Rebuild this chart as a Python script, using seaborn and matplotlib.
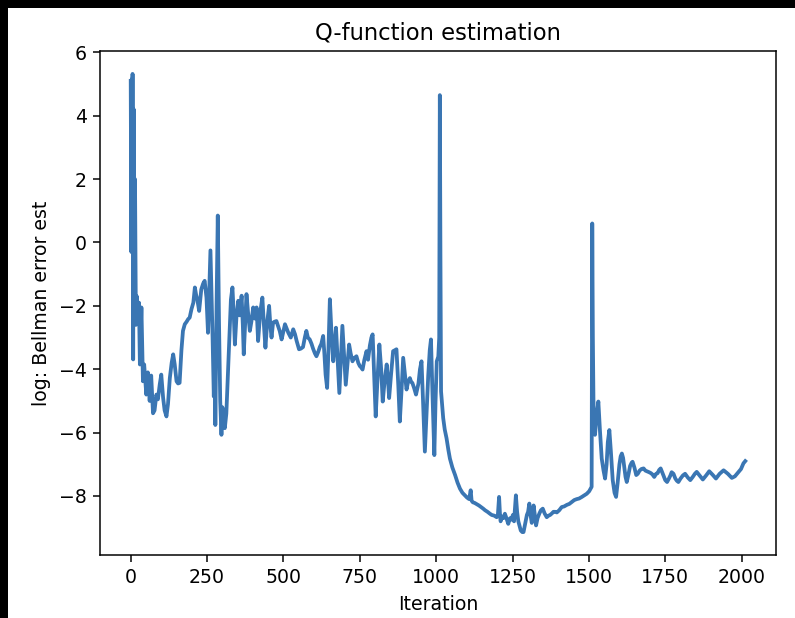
import numpy as np
import pandas as pd
import matplotlib
matplotlib.use("Agg")
import matplotlib.pyplot as plt
from matplotlib.patches import Rectangle
import seaborn as sns

# 1. VALUES (iteration, log Bellman error)
iters = [
    0, 2, 3, 5, 6, 8, 10, 12, 14, 17, 20, 24, 27, 30, 35, 40, 44, 51, 56, 62,
    67, 73, 78, 84, 89, 95, 100, 106, 111, 117, 122, 128, 134, 139, 144, 150, 155, 160, 166, 171,
    177, 183, 188, 193, 199, 205, 210, 214, 218, 224, 231, 237, 242, 248, 253, 257, 261, 265, 268, 272,
    275, 277, 281, 285, 289, 293, 297, 300, 303, 308, 313, 318, 324, 328, 333, 337, 341, 346, 352, 357,
    363, 367, 370, 375, 379, 384, 390, 395, 401, 406, 412, 417, 424, 431, 436, 441, 447, 453, 457, 461,
    466, 471, 477, 483, 488, 494, 500, 505, 510, 516, 524, 532, 538, 543, 551, 557, 564, 570, 575, 580,
    586, 592, 597, 603, 608, 614, 619, 624, 630, 634, 638, 643, 647, 652, 657, 663, 667, 672, 677, 683,
    688, 693, 698, 704, 709, 715, 720, 726, 732, 739, 745, 750, 755, 759, 765, 772, 777, 783, 788, 792,
    797, 802, 808, 814, 820, 825, 831, 838, 842, 846, 852, 859, 865, 870, 876, 881, 887, 892, 897, 903,
    908, 914, 918, 922, 928, 934, 942, 947, 952, 957, 963, 968, 974, 979, 983, 988, 994, 998, 1002, 1007,
    1010, 1012, 1014, 1016, 1020, 1023, 1028, 1034, 1040, 1045, 1053, 1062, 1070, 1078, 1086, 1094, 1101, 1108, 1113, 1116,
    1120, 1126, 1133, 1140, 1147, 1154, 1160, 1168, 1176, 1182, 1190, 1198, 1202, 1206, 1209, 1211, 1216, 1220, 1225, 1230,
    1236, 1242, 1247, 1251, 1255, 1258, 1261, 1265, 1269, 1273, 1277, 1282, 1286, 1291, 1297, 1301, 1305, 1309, 1313, 1316,
    1319, 1323, 1327, 1332, 1338, 1343, 1349, 1355, 1362, 1368, 1373, 1379, 1384, 1390, 1395, 1403, 1411, 1419, 1428, 1436,
    1444, 1452, 1460, 1468, 1477, 1485, 1493, 1501, 1507, 1509, 1511, 1513, 1515, 1518, 1520, 1525, 1531, 1536, 1542, 1548,
    1553, 1558, 1562, 1567, 1572, 1578, 1584, 1589, 1594, 1600, 1604, 1608, 1612, 1616, 1620, 1624, 1630, 1635, 1640, 1643,
    1649, 1655, 1660, 1666, 1672, 1679, 1685, 1690, 1697, 1703, 1708, 1714, 1720, 1725, 1730, 1735, 1740, 1744, 1750, 1756,
    1762, 1767, 1771, 1777, 1783, 1788, 1793, 1800, 1808, 1815, 1824, 1832, 1840, 1847, 1853, 1862, 1873, 1884, 1894, 1905,
    1916, 1928, 1941, 1955, 1968, 1978, 1990, 1998, 2006, 2012,
]

log_err = [
    5.10, -0.30, 5.15, 1.00, 5.32, -3.69, 4.20, -1.50, 2.00, -2.60, -1.70, -2.30, -1.90, -3.85, -2.05, -4.38, -3.85, -4.80, -4.10, -5.00,
    -4.20, -5.39, -5.30, -4.80, -4.95, -4.48, -4.17, -4.90, -5.30, -5.49, -5.10, -4.28, -3.80, -3.53, -3.85, -4.38, -4.45, -4.43, -3.40, -2.79,
    -2.58, -2.50, -2.42, -2.37, -2.10, -1.90, -1.42, -1.65, -1.80, -2.16, -1.48, -1.30, -1.21, -1.74, -2.85, -1.50, -0.25, -1.80, -3.00, -4.86,
    -3.20, -5.76, -2.00, 0.85, -2.50, -5.00, -6.07, -5.20, -5.40, -5.86, -5.40, -4.20, -2.79, -1.80, -1.42, -2.20, -3.22, -2.37, -1.84, -2.30,
    -1.68, -2.60, -3.53, -2.50, -1.63, -2.20, -2.79, -2.50, -2.05, -2.40, -2.05, -3.11, -2.20, -1.74, -2.60, -3.32, -2.50, -2.00, -2.60, -3.00,
    -2.53, -2.50, -2.48, -2.65, -2.80, -3.06, -2.80, -2.58, -2.70, -2.85, -3.00, -2.74, -2.90, -3.10, -3.37, -3.35, -3.30, -3.00, -2.79, -3.00,
    -3.06, -3.20, -3.35, -3.50, -3.59, -3.45, -3.30, -3.20, -2.95, -3.50, -4.17, -4.59, -3.50, -1.79, -2.80, -3.75, -3.30, -2.69, -3.60, -4.75,
    -3.70, -2.63, -3.50, -4.49, -3.90, -3.22, -3.50, -3.75, -3.65, -3.59, -3.80, -3.90, -3.95, -4.01, -3.70, -3.43, -3.70, -3.25, -3.00, -2.90,
    -4.20, -5.49, -4.30, -3.22, -4.00, -5.02, -4.40, -3.85, -4.30, -4.91, -4.20, -3.43, -3.40, -3.37, -4.50, -5.65, -4.60, -3.64, -4.10, -4.64,
    -4.40, -4.28, -4.40, -4.43, -4.60, -4.80, -4.45, -4.00, -3.75, -5.00, -6.60, -5.50, -4.20, -3.40, -3.06, -4.80, -6.71, -5.00, -3.75, -3.60,
    -3.00, 4.65, -0.50, -4.70, -5.20, -5.54, -5.90, -6.18, -6.55, -6.82, -7.10, -7.34, -7.58, -7.77, -7.90, -7.98, -8.05, -8.10, -7.82, -8.15,
    -8.20, -8.22, -8.26, -8.30, -8.35, -8.40, -8.45, -8.50, -8.56, -8.60, -8.62, -8.67, -8.60, -8.03, -8.60, -8.80, -8.65, -8.70, -8.56, -8.70,
    -8.88, -8.70, -8.75, -8.60, -8.80, -8.40, -7.98, -8.50, -8.80, -8.95, -9.09, -9.14, -9.14, -8.90, -8.60, -8.50, -8.24, -8.60, -8.85, -8.60,
    -8.30, -8.60, -8.93, -8.70, -8.55, -8.45, -8.40, -8.55, -8.67, -8.62, -8.60, -8.55, -8.50, -8.50, -8.52, -8.45, -8.35, -8.33, -8.28, -8.25,
    -8.19, -8.13, -8.10, -8.08, -8.03, -7.98, -7.93, -7.85, -7.75, -7.71, 0.60, -3.00, -5.02, -5.80, -6.07, -5.50, -5.02, -5.90, -6.82, -7.20,
    -7.45, -7.00, -6.30, -5.92, -6.60, -7.50, -7.90, -8.03, -7.60, -7.00, -6.75, -6.66, -6.80, -7.10, -7.40, -7.56, -7.30, -7.05, -6.95, -6.92,
    -7.10, -7.34, -7.30, -7.20, -7.15, -7.13, -7.20, -7.22, -7.25, -7.28, -7.32, -7.40, -7.30, -7.28, -7.18, -7.13, -7.25, -7.35, -7.50, -7.56,
    -7.45, -7.35, -7.25, -7.30, -7.45, -7.52, -7.56, -7.45, -7.35, -7.30, -7.42, -7.50, -7.40, -7.30, -7.24, -7.35, -7.48, -7.35, -7.22, -7.33,
    -7.45, -7.30, -7.19, -7.30, -7.43, -7.38, -7.24, -7.15, -6.97, -6.90,
]

title = "Q-function estimation"
x_label = "Iteration"
y_label = "log: Bellman error est"

df = pd.DataFrame({"iteration": iters, "log_err": log_err})

# 2. FIGURE (matplotlib default look, dark strip on top/left like the screenshot)
dpi = 136
fig = plt.figure(figsize=(795 / dpi, 618 / dpi), dpi=dpi)
fig.patch.set_facecolor("black")
fig.patches.append(Rectangle((8 / 795, 0), 1, 1 - 8 / 618, transform=fig.transFigure,
                             facecolor="white", edgecolor="none", zorder=-1))
ax = fig.add_axes([100 / 795, 1 - 555 / 618, 676 / 795, 504 / 618])

sns.lineplot(data=df, x="iteration", y="log_err", ax=ax, color="#3a76b3", linewidth=2.0)

ax.set_title(title, fontsize=12)
ax.set_xlabel(x_label)
ax.set_ylabel(y_label)
ax.set_xticks(np.arange(0, 2001, 250))
ax.set_yticks(np.arange(-8, 7, 2))

fig.savefig("out.png", dpi=dpi, facecolor=fig.get_facecolor())
print("saved out.png")
